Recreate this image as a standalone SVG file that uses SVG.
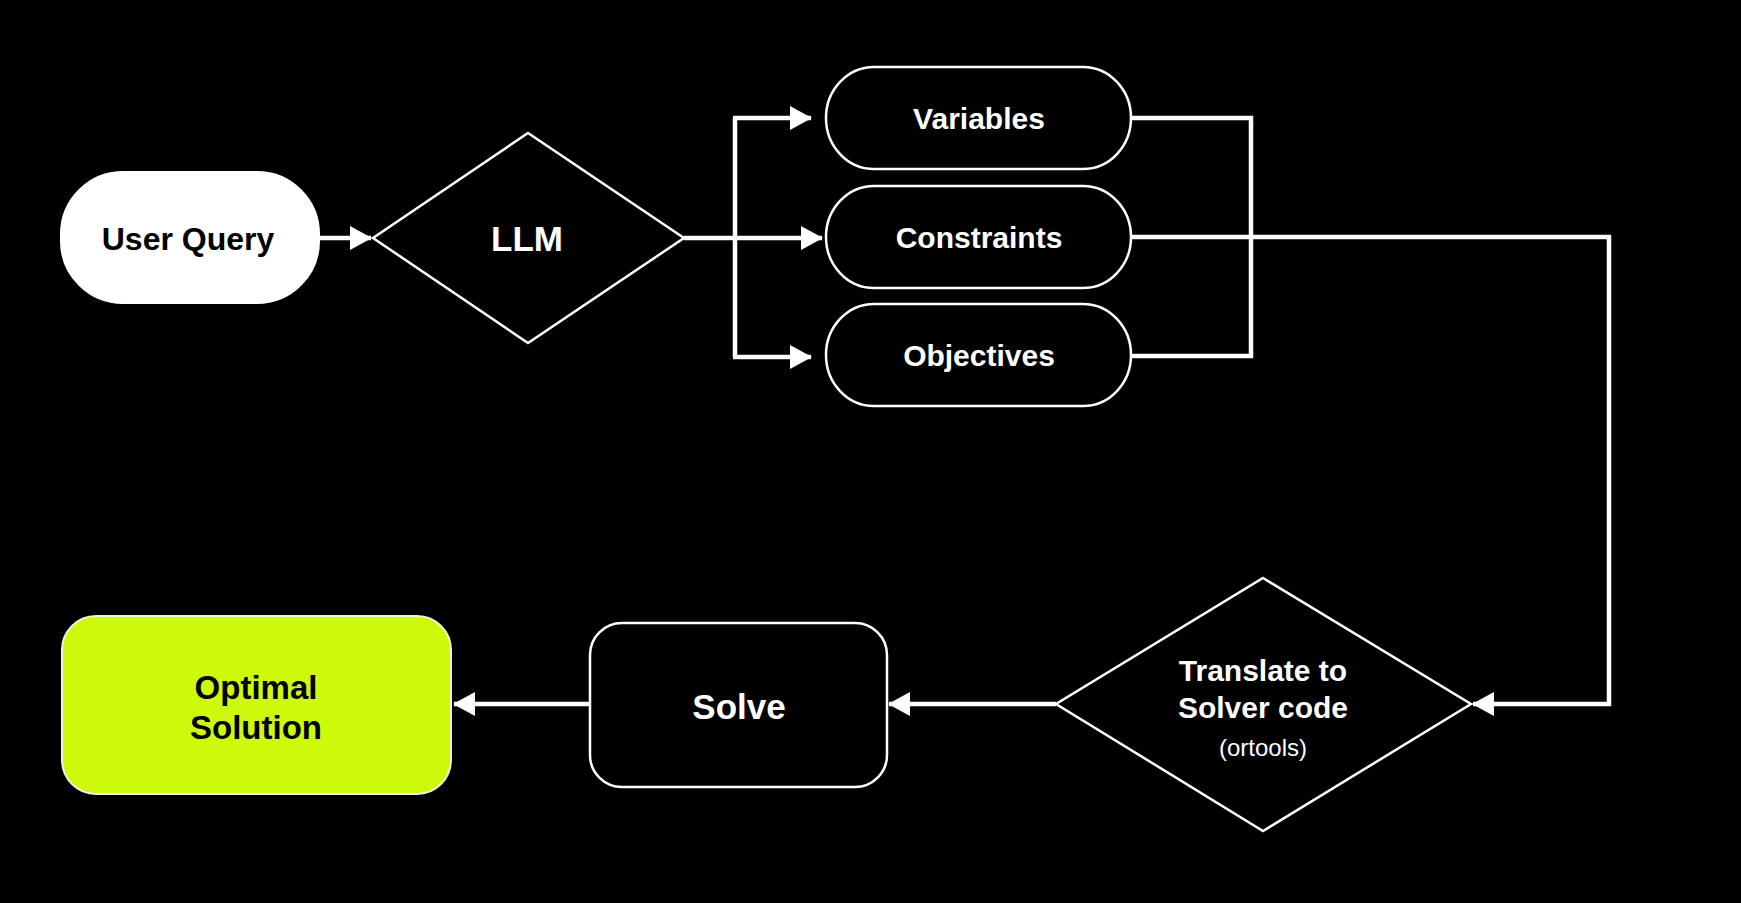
<svg xmlns="http://www.w3.org/2000/svg" width="1741" height="903" viewBox="0 0 1741 903">
<defs>
<style>
.bg{fill:#000}
.shape{fill:#000;stroke:#fff;stroke-width:2.5}
.lbl{font-family:"Liberation Sans",Arial,sans-serif;font-weight:bold;text-anchor:middle;fill:#fff}
.conn{fill:none;stroke:#fff;stroke-width:4.5;stroke-linejoin:miter}
</style>
<marker id="ah" markerUnits="userSpaceOnUse" markerWidth="22" markerHeight="24" refX="21" refY="12" orient="auto">
<path d="M0,0 L22,12 L0,24 Z" fill="#fff"/>
</marker>
</defs>
<rect class="bg" x="0" y="0" width="1741" height="903"/>

<g id="connectors">
<path class="conn" d="M319,238 L371,238" marker-end="url(#ah)"/>
<path class="conn" d="M684,238 L822,238" marker-end="url(#ah)"/>
<path class="conn" d="M735,118 L735,357"/>
<path class="conn" d="M733,118 L811,118" marker-end="url(#ah)"/>
<path class="conn" d="M733,357 L811,357" marker-end="url(#ah)"/>
<path class="conn" d="M1131,118 L1251,118 L1251,356 L1131,356"/>
<path class="conn" d="M1131,237 L1609,237 L1609,704 L1473,704" marker-end="url(#ah)"/>
<path class="conn" d="M1056,704 L889,704" marker-end="url(#ah)"/>
<path class="conn" d="M590,704 L454,704" marker-end="url(#ah)"/>
</g>

<g id="user-query">
<rect x="61" y="172" width="258" height="131" rx="62" ry="62" fill="#fff" stroke="#fff" stroke-width="2"/>
<text class="lbl" x="188" y="250" font-size="32" fill="#000" style="fill:#000">User Query</text>
</g>

<g id="llm">
<polygon class="shape" points="528,133 684,238 528,343 373,238"/>
<text class="lbl" x="527" y="251" font-size="35">LLM</text>
</g>

<g id="variables">
<rect class="shape" x="826" y="67" width="305" height="102" rx="48" ry="51"/>
<text class="lbl" x="979" y="129" font-size="30">Variables</text>
</g>

<g id="constraints">
<rect class="shape" x="826" y="186" width="305" height="102" rx="48" ry="51"/>
<text class="lbl" x="979" y="248" font-size="30">Constraints</text>
</g>

<g id="objectives">
<rect class="shape" x="826" y="304" width="305" height="102" rx="48" ry="51"/>
<text class="lbl" x="979" y="366" font-size="30">Objectives</text>
</g>

<g id="translate">
<polygon class="shape" points="1263,578 1471,704 1263,831 1056,704"/>
<text class="lbl" x="1263" y="681" font-size="30">Translate to</text>
<text class="lbl" x="1263" y="718" font-size="30">Solver code</text>
<text x="1263" y="756" font-size="24" font-family="'Liberation Sans',Arial,sans-serif" text-anchor="middle" fill="#fff">(ortools)</text>
</g>

<g id="solve">
<rect class="shape" x="590" y="623" width="297" height="164" rx="32" ry="32"/>
<text class="lbl" x="739" y="719" font-size="35">Solve</text>
</g>

<g id="optimal-solution">
<rect x="62" y="616" width="389" height="178" rx="34" ry="34" fill="#ccfa0a" stroke="#f0f0e0" stroke-width="2"/>
<text class="lbl" x="256" y="699" font-size="33" style="fill:#000">Optimal</text>
<text class="lbl" x="256" y="739" font-size="33" style="fill:#000">Solution</text>
</g>
</svg>
